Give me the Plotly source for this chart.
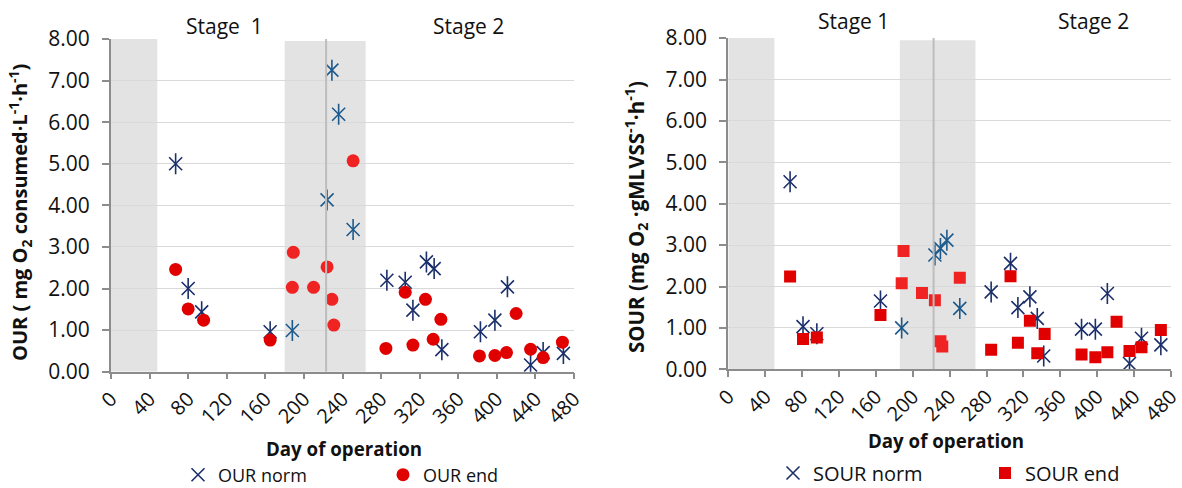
import plotly.graph_objects as go

# ---------------- data ----------------
# Oxygen uptake rate (left panel)
our_norm_day = [67, 80, 94, 165, 188, 224, 229, 236, 251, 286, 305, 313, 327, 335, 343,
                383, 398, 411, 435, 448, 469]
our_norm_val = [5.00, 2.00, 1.44, 0.96, 0.99, 4.13, 7.25, 6.19, 3.42, 2.20, 2.15, 1.48, 2.64,
                2.48, 0.53, 0.96, 1.24, 2.04, 0.16, 0.46, 0.44]

our_end_day = [67, 80, 96, 165, 188, 189, 210, 224, 229, 231, 251, 285, 305, 313, 326, 334,
               342, 382, 398, 410, 420, 435, 448, 468]
our_end_val = [2.46, 1.51, 1.24, 0.76, 2.03, 2.87, 2.03, 2.52, 1.74, 1.12, 5.07, 0.56, 1.91,
               0.64, 1.74, 0.78, 1.26, 0.38, 0.39, 0.46, 1.40, 0.54, 0.34, 0.71]

# Specific oxygen uptake rate (right panel)
sour_norm_day = [67, 81, 96, 165, 188, 224, 230, 237, 251, 285, 306, 314, 327, 335, 342,
                 383, 398, 411, 435, 448, 469]
sour_norm_val = [4.53, 1.03, 0.86, 1.65, 1.00, 2.76, 2.92, 3.12, 1.47, 1.87, 2.56, 1.49, 1.75,
                 1.23, 0.32, 0.97, 0.97, 1.83, 0.14, 0.75, 0.59]

sour_end_day = [67, 81, 96, 165, 188, 190, 210, 224, 230, 232, 251, 285, 306, 314, 327, 335,
                343, 383, 398, 411, 421, 435, 448, 469]
sour_end_val = [2.24, 0.73, 0.77, 1.31, 2.08, 2.86, 1.84, 1.67, 0.68, 0.55, 2.21, 0.47, 2.25,
                0.64, 1.17, 0.39, 0.85, 0.36, 0.29, 0.41, 1.15, 0.44, 0.53, 0.95]

x_ticks = [0, 40, 80, 120, 160, 200, 240, 280, 320, 360, 400, 440, 480]
y_ticks = [0, 1, 2, 3, 4, 5, 6, 7, 8]

# shaded periods and stage boundary (days)
left_shade = [(0, 48), (180, 264)]
right_shade = [(0, 50), (186, 268)]
left_stage_change = 223
right_stage_change = 222.6

# ---------------- styling ----------------
W, H = 1182, 488
FONT = "Open Sans"
NAVY, NAVY_SH = "#1b2f6b", "#1d5a8c"
RED, RED_SH = "#e00000", "#f02323"
GRID = "#d9d9d9"
AXIS = "#8c8c8c"
SHADE = "#e3e3e3"
TXT = "#111111"


def px_x(p):
    return p / W


def px_y(p):
    return 1 - p / H


def shade_colors(days, spans, base, shaded):
    lo, hi = spans[1]
    return [shaded if lo <= d <= hi else base for d in days]


fig = go.Figure()


def add_star(days, vals, spans, name, xa, ya, legend):
    """Star marker: an X with a vertical bar through it."""
    cols = shade_colors(days, spans, NAVY, NAVY_SH)
    fig.add_trace(go.Scatter(
        x=days, y=vals, mode="markers", name=name, xaxis=xa, yaxis=ya, legend=legend,
        legendgroup=name,
        marker=dict(symbol="x-thin", size=13, color=cols,
                    line=dict(width=1.6, color=cols))))
    fig.add_trace(go.Scatter(
        x=days, y=vals, mode="markers", name=name, xaxis=xa, yaxis=ya, legend=legend,
        legendgroup=name, showlegend=False, hoverinfo="skip",
        marker=dict(symbol="line-ns", size=15, color=cols,
                    line=dict(width=1.6, color=cols))))


add_star(our_norm_day, our_norm_val, left_shade, "OUR norm", "x", "y", "legend")
fig.add_trace(go.Scatter(
    x=our_end_day, y=our_end_val, mode="markers", name="OUR end", xaxis="x", yaxis="y",
    legend="legend",
    marker=dict(symbol="circle", size=13,
                color=shade_colors(our_end_day, left_shade, RED, RED_SH))))

add_star(sour_norm_day, sour_norm_val, right_shade, "SOUR norm", "x2", "y2", "legend2")
fig.add_trace(go.Scatter(
    x=sour_end_day, y=sour_end_val, mode="markers", name="SOUR end", xaxis="x2", yaxis="y2",
    legend="legend2",
    marker=dict(symbol="square", size=12,
                color=shade_colors(sour_end_day, right_shade, RED, RED_SH))))

# ---------------- shapes ----------------
shapes = []
for spans, xr, yr, change, ytop in [(left_shade, "x", "y", left_stage_change, 8.63),
                                     (right_shade, "x2", "y2", right_stage_change, 8.52)]:
    shapes.append(dict(type="rect", xref=xr, yref=yr, x0=spans[0][0], x1=spans[0][1],
                       y0=0, y1=8, fillcolor=SHADE, line=dict(width=0), layer="below"))
    shapes.append(dict(type="rect", xref=xr, yref=yr, x0=spans[1][0], x1=spans[1][1],
                       y0=-0.08, y1=7.95, fillcolor=SHADE, line=dict(width=0), layer="below"))
    shapes.append(dict(type="line", xref=xr, yref=yr, x0=change, x1=change, y0=0, y1=ytop,
                       line=dict(color="#bdbdbd", width=2), layer="above"))

# ---------------- axes ----------------
xa_common = dict(range=[0, 480], tickvals=x_ticks, tickangle=-45, showgrid=False,
                 showline=True, linecolor=AXIS, linewidth=1.5, ticks="outside",
                 ticklen=6, tickcolor=AXIS, tickwidth=1.5,
                 tickfont=dict(family=FONT, size=20, color=TXT),
                 ticklabeloverflow="allow",
                 zeroline=False, fixedrange=True, automargin=False)
ya_common = dict(range=[0, 8], tickvals=y_ticks, tickformat=".2f", showgrid=True,
                 gridcolor=GRID, gridwidth=1.3, showline=True, linecolor=AXIS, linewidth=2,
                 ticks="outside", ticklen=7, tickcolor=AXIS, tickwidth=1.5,
                 tickfont=dict(family=FONT, size=21, color=TXT),
                 ticklabelstandoff=8, ticklabeloverflow="allow",
                 zeroline=False, fixedrange=True, automargin=False)

fig.update_layout(
    width=W, height=H,
    margin=dict(l=0, r=0, t=0, b=0, autoexpand=False),
    paper_bgcolor="white", plot_bgcolor="white",
    font=dict(family=FONT, color=TXT),
    xaxis=dict(domain=[px_x(111), px_x(574)], anchor="y", **xa_common),
    yaxis=dict(domain=[px_y(371.7), px_y(39)], anchor="x", **ya_common),
    xaxis2=dict(domain=[px_x(728.3), px_x(1171)], anchor="y2", **xa_common),
    yaxis2=dict(domain=[px_y(369.3), px_y(38.1)], anchor="x2", **ya_common),
    shapes=shapes,
    legend=dict(orientation="h", xref="container", yref="container",
                x=px_x(178), y=px_y(475), xanchor="left", yanchor="middle",
                font=dict(family=FONT, size=18, color=TXT),
                entrywidth=160, entrywidthmode="pixels", bgcolor="rgba(0,0,0,0)"),
    legend2=dict(orientation="h", xref="container", yref="container",
                 x=px_x(773), y=px_y(473), xanchor="left", yanchor="middle",
                 font=dict(family=FONT, size=20, color=TXT),
                 entrywidth=167, entrywidthmode="pixels", bgcolor="rgba(0,0,0,0)"),
    showlegend=True,
)

ann = []
# axis titles
ann.append(dict(text="OUR ( mg O<sub>2</sub> consumed·L<sup>-1</sup>·h<sup>-1</sup>)",
                x=px_x(20), y=px_y(213), textangle=-90, showarrow=False,
                font=dict(family=FONT, size=20, color=TXT, weight="bold")))
ann.append(dict(text="SOUR (mg O<sub>2</sub> ·gMLVSS<sup>-1</sup>·h<sup>-1</sup>)",
                x=px_x(636), y=px_y(217), textangle=-90, showarrow=False,
                font=dict(family=FONT, size=20.5, color=TXT, weight="bold")))
ann.append(dict(text="Day of operation", x=px_x(344), y=px_y(448), showarrow=False,
                font=dict(family=FONT, size=18.7, color=TXT, weight="bold")))
ann.append(dict(text="Day of operation", x=px_x(946), y=px_y(440), showarrow=False,
                font=dict(family=FONT, size=18.7, color=TXT, weight="bold")))
# stage labels
for txt, x, y in [("Stage\u00a0 1", 224, 26), ("Stage 2", 468, 26),
                  ("Stage 1", 853, 21), ("Stage 2", 1093, 21)]:
    ann.append(dict(text=txt, x=px_x(x), y=px_y(y), showarrow=False,
                    font=dict(family=FONT, size=21, color=TXT)))
for a in ann:
    a.update(xref="paper", yref="paper", xanchor="center", yanchor="middle")
fig.update_layout(annotations=ann)

fig.write_html("out.html")
